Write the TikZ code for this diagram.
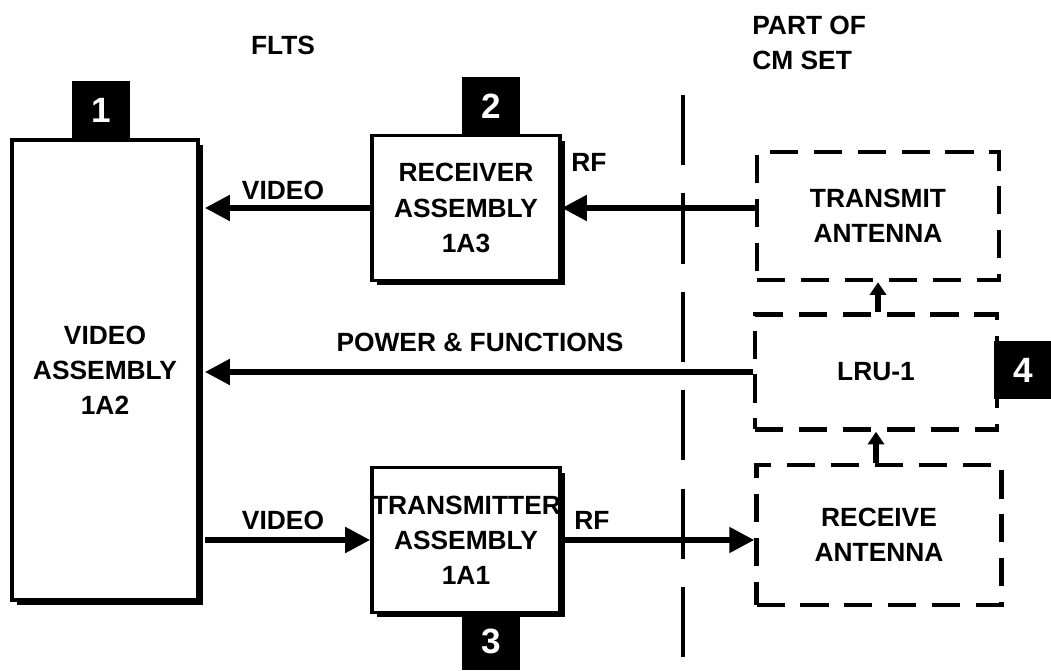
\documentclass[tikz,border=0pt]{standalone}
\usepackage{fontspec}
\setmainfont{Liberation Sans}
\usetikzlibrary{arrows.meta,shadows}

\tikzset{
    unit/.style={draw, line width=2.2pt, fill=white, align=center, inner xsep=0pt,
        drop shadow={shadow xshift=0.1cm, shadow yshift=-0.1cm, fill=black, opacity=1}},
    cmunit/.style={draw, line width=2.6pt, dash pattern=on 16pt off 9pt, align=center},
    badge/.style={fill=black, text=white, minimum size=1.16cm, inner sep=0pt,
        font=\fontsize{20}{24}\selectfont\bfseries},
    arr/.style={line width=3pt, -{Triangle[length=0.5cm, width=0.5cm]}},
    smallarr/.style={line width=3pt, -{Triangle[length=0.25cm, width=0.32cm]}},
    lbl/.style={inner sep=0pt}
}

\begin{document}
\begin{tikzpicture}[x=0.02cm, y=-0.02cm,
        font=\fontsize{15}{20}\selectfont\bfseries]
    \useasboundingbox (0,0) rectangle (1051,671);

    % FLTS units
    \node[unit, minimum width=3.72cm, minimum height=9.2cm] (vid) at (105,370) {VIDEO\\ASSEMBLY\\1A2};
    \node[unit, minimum width=3.76cm, minimum height=2.9cm] (rcv) at (466,208) {RECEIVER\\ASSEMBLY\\1A3};
    \node[unit, minimum width=3.76cm, minimum height=2.9cm, text width=3.76cm] (tx) at (466,540)
        {TRANSMITTER\\ASSEMBLY\\1A1};

    \node[badge] (b1) at (101,110) {1};
    \node[badge] (b2) at (491,106) {2};
    \node[badge] (b3) at (491,641) {3};

    % CM set units
    \node[cmunit, minimum width=4.84cm, minimum height=2.56cm] (txant) at (878,216) {TRANSMIT\\ANTENNA};
    \node[cmunit, minimum width=4.84cm, minimum height=2.3cm] (lru) at (876,372) {LRU-1};
    \node[cmunit, minimum width=4.9cm, minimum height=2.8cm] (rxant) at (879,535) {RECEIVE\\ANTENNA};
    \node[badge] (b4) at (1023,370) {4};

    % boundary
    \coordinate (sepTop) at (683,95);
    \coordinate (sepBot) at (683,671);
    \draw[line width=2.6pt, dash pattern=on 40pt off 16pt] (sepTop) -- (sepBot);

    \node[lbl] (flts) at (283,45) {FLTS};
    \node[lbl, anchor=west, align=left] (cmset) at (752,43) {PART OF\\CM SET};

    % signals
    \draw[arr] (txant.west |- rcv.east) -- (rcv.east);
    \draw[arr] (rcv.west) -- ([xshift=0.1cm]rcv.west -| vid.east);
    \draw[arr] (lru.west) -- ([xshift=0.1cm]lru.west -| vid.east);
    \draw[arr] ([xshift=0.1cm]vid.east |- tx.west) -- (tx.west);
    \draw[arr] (tx.east) -- (tx.east -| rxant.west);
    \draw[smallarr] (lru.north -| txant.south) -- (txant.south);
    \draw[smallarr] (rxant.north -| lru.south) -- (lru.south);

    \node[lbl] (vidA) at (283,190) {VIDEO};
    \node[lbl] (rfA) at (589,162) {RF};
    \node[lbl] (pwr) at (480,342) {POWER \& FUNCTIONS};
    \node[lbl] (vidB) at (283,520) {VIDEO};
    \node[lbl] (rfB) at (592,520) {RF};
\end{tikzpicture}
\end{document}
